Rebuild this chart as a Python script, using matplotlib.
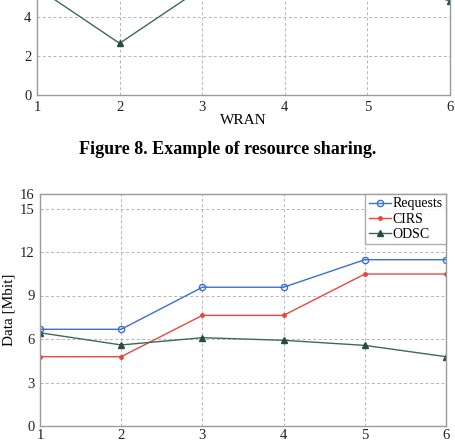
import numpy as np
import matplotlib.pyplot as plt

plt.rcParams['font.family'] = ['Liberation Serif', 'DejaVu Serif']

# top chart (only the lower part is visible)
wran = [1, 2, 3, 4, 5, 6]
top_odsc = [5.5, 2.65, 5.5, 6.0, 6.5, 4.8]

# bottom chart
x = [1, 2, 3, 4, 5, 6]
requests = [6.67, 6.67, 9.57, 9.57, 11.47, 11.47]
cirs = [4.78, 4.78, 7.63, 7.63, 10.48, 10.48]
odsc = [6.43, 5.59, 6.09, 5.91, 5.56, 4.78]
yticks = [0, 3, 6, 9, 12, 15, 16]

blue = '#3b6fd6'
red = '#e8473c'
green = '#2b4d3b'
gray = '#9a9a9a'
fs = 10.5

fig = plt.figure(figsize=(4.56, 4.42), dpi=100)


def style(ax):
    for s in ax.spines.values():
        s.set_color(gray)
        s.set_linewidth(1.0)
    ax.grid(True, color='#b5b5b5', linestyle=(0, (3, 2.5)), linewidth=0.7)
    ax.tick_params(length=0, labelsize=fs, colors='#222222', pad=4)


# top axes - extends above the figure so only the bottom shows
ax1 = fig.add_axes([37 / 456, (442 - 95) / 442, 413 / 456, 195 / 442])
ax1.plot(wran, top_odsc, color='#3d6a55', lw=1.0, marker='^', ms=4,
         markerfacecolor=green, markeredgecolor=green)
ax1.set_xlim(1, 6)
ax1.set_ylim(0, 10)
ax1.set_yticks([0, 2, 4])
ax1.set_xticks(wran)
style(ax1)
ax1.set_xlabel('WRAN', fontsize=11, labelpad=0)

fig.text(0.5, (442 - 150) / 442, 'Figure 8. Example of resource sharing.',
         ha='center', va='center', fontsize=13, fontweight='bold')

# bottom axes
ax2 = fig.add_axes([40 / 456, (442 - 426) / 442, 406 / 456, 232 / 442])
ax2.plot(x, requests, color=blue, lw=1.0, marker='o', ms=4.5,
         markerfacecolor='none', markeredgecolor=blue, label='Requests')
ax2.plot(x, cirs, color=red, lw=1.0, marker='o', ms=2.5,
         markerfacecolor=red, markeredgecolor=red, label='CIRS')
ax2.plot(x, odsc, color='#3d6a55', lw=1.0, marker='^', ms=4,
         markerfacecolor=green, markeredgecolor=green, label='ODSC')
ax2.set_xlim(1, 6)
ax2.set_ylim(0, 16)
ax2.set_yticks(yticks)
ax2.set_xticks(x)
style(ax2)
ax2.tick_params(axis='x', pad=2)
ax2.set_ylabel('Data [Mbit]', fontsize=11, labelpad=3)

leg = ax2.legend(loc='upper right', fontsize=10, frameon=True, fancybox=False,
                 handlelength=1.6, handletextpad=0.1, borderpad=0.25,
                 labelspacing=0.15, borderaxespad=0.0)
leg.get_frame().set_edgecolor(gray)
leg.get_frame().set_linewidth(1.0)

fig.savefig('out.png', dpi=100)
